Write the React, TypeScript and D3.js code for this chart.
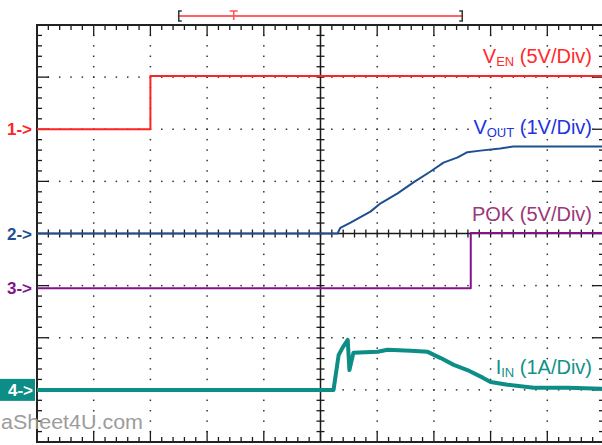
import React from 'react';
import * as d3 from 'd3';

const W = 602;
const H = 445;

// time axis in divisions, vertical axis in divisions
const xDomain = [-5, 5];
const yDomain = [-4, 4];

// Channel 1: VEN (5V/Div)
const ch1Time = [-5, -3.0, -3.0, 5];
const ch1Value = [0, 0, 5.1, 5.1];
// Channel 2: VOUT (1V/Div)
const ch2Time = [-5, 0.3, 0.35, 0.53, 0.88, 1.06, 1.36, 1.64, 1.94, 2.17, 2.42, 2.59, 2.82, 3.17, 3.4, 5];
const ch2Value = [0, 0, 0.11, 0.21, 0.42, 0.58, 0.77, 0.98, 1.19, 1.36, 1.46, 1.56, 1.59, 1.63, 1.67, 1.67];
// Channel 3: POK (5V/Div)
const ch3Time = [-5, 2.65, 2.65, 5];
const ch3Value = [0, 0, 5.3, 5.3];
// Channel 4: IIN (1A/Div)
const ch4Time = [-5, 0.23, 0.32, 0.39, 0.48, 0.51, 0.58, 1.01, 1.18, 1.59, 1.89, 2.12, 2.35, 2.59, 2.87, 3.0, 3.3, 3.76, 4.36, 5];
const ch4Value = [0, 0, 0.67, 0.81, 0.96, 0.38, 0.71, 0.73, 0.77, 0.75, 0.73, 0.61, 0.48, 0.38, 0.23, 0.15, 0.1, 0.04, 0.04, 0.02];

const channelIds = ['1', '2', '3', '4'];
const channelScales = [5, 1, 5, 1];
const channelOffsets = [2.0, 0, -1.05, -3.0];
const channelColors = ['#ff2424', '#1f4f8f', '#85128a', '#0c8d86'];
const labelColors = ['#ff2a2a', '#2233e0', '#9a3778', '#12918a'];
const labelMain = ['V', 'V', 'POK', 'I'];
const labelSub = ['EN', 'OUT', '', 'IN'];
const labelRest = [' (5V/Div)', ' (1V/Div)', ' (5V/Div)', ' (1A/Div)'];
const labelBaselines = [63, 134, 221, 374];

// top time bracket (divisions)
const bracketStart = -2.5;
const bracketEnd = 2.5;
const triggerPos = -1.53;

export default function App() {
  const x = d3.scaleLinear().domain(xDomain).range([37, 604]);
  const y = d3.scaleLinear().domain(yDomain).range([442, 25]);
  const minorX = d3.range(xDomain[0], xDomain[1] + 0.001, 0.2);
  const minorY = d3.range(yDomain[0], yDomain[1] + 0.001, 0.2);
  const majorX = d3.range(xDomain[0] + 1, xDomain[1], 1);
  const majorY = d3.range(yDomain[0] + 1, yDomain[1], 1);
  const isMajor = (v: number) => Math.abs(v - Math.round(v)) < 1e-6;

  const series = [
    [ch1Time, ch1Value],
    [ch2Time, ch2Value],
    [ch3Time, ch3Value],
    [ch4Time, ch4Value],
  ];

  const dots: JSX.Element[] = [];
  majorX.filter((t) => t !== 0).forEach((t) => {
    minorY.forEach((v, i) => {
      if (v <= yDomain[0] + 0.01 || v >= yDomain[1] - 0.01) return;
      dots.push(<rect key={`dv${t}_${i}`} x={x(t) - 0.75} y={y(v) - 0.75} width={1.5} height={1.5} fill="#333" />);
    });
  });
  majorY.filter((v) => v !== 0).forEach((v) => {
    minorX.forEach((t, i) => {
      if (t <= xDomain[0] + 0.01 || t >= xDomain[1] - 0.01) return;
      dots.push(<rect key={`dh${v}_${i}`} x={x(t) - 0.75} y={y(v) - 0.75} width={1.5} height={1.5} fill="#333" />);
    });
  });

  const ticks: JSX.Element[] = [];
  const x0 = x(0);
  const y0 = y(0);
  minorX.forEach((t, i) => {
    const xi = x(t);
    const L = isMajor(t) ? 11 : 5;
    ticks.push(<line key={`tt${i}`} x1={xi} x2={xi} y1={25} y2={25 + L} />);
    ticks.push(<line key={`tb${i}`} x1={xi} x2={xi} y1={442} y2={442 - L} />);
    ticks.push(<line key={`tc${i}`} x1={xi} x2={xi} y1={y0 - 4} y2={y0 + 4} />);
  });
  minorY.forEach((v, i) => {
    const yi = y(v);
    const L = isMajor(v) ? 12 : 5;
    ticks.push(<line key={`tl${i}`} x1={37} x2={37 + L} y1={yi} y2={yi} />);
    ticks.push(<line key={`tr${i}`} x1={604} x2={604 - L} y1={yi} y2={yi} />);
    ticks.push(<line key={`tcy${i}`} x1={x0 - 4} x2={x0 + 4} y1={yi} y2={yi} />);
  });

  const lines = series.map(([ts, vs], ci) => {
    const pts: [number, number][] = ts.map((t, k) => [t, vs[k] / channelScales[ci] + channelOffsets[ci]]);
    const gen = d3.line<[number, number]>().x((d) => x(d[0])).y((d) => y(d[1]));
    return (
      <path
        key={`s${ci}`}
        d={gen(pts) || ''}
        fill="none"
        stroke={channelColors[ci]}
        strokeWidth={ci === 3 ? 4 : 2}
        strokeLinejoin="round"
      />
    );
  });

  const font = "'Liberation Sans', Arial, sans-serif";

  return (
    <svg width={W} height={H} style={{ position: 'absolute', left: 0, top: 0, background: '#fff' }}>
      <rect x={0} y={0} width={W} height={H} fill="#fff" />
      {dots}
      <g stroke="#1a1a1a" strokeWidth={1.3}>{ticks}</g>
      <line x1={x0} x2={x0} y1={25} y2={442} stroke="#1a1a1a" strokeWidth={1.5} />
      <line x1={37} x2={604} y1={y0} y2={y0} stroke="#1a1a1a" strokeWidth={1.5} />
      <rect x={37} y={25} width={567} height={417} fill="none" stroke="#222" strokeWidth={2} />

      {/* time bracket */}
      <line x1={x(bracketStart)} x2={x(bracketEnd)} y1={16} y2={16} stroke="#ff3030" strokeWidth={1.5} />
      <path d={`M${x(bracketStart) + 3},11 H${x(bracketStart)} V21 H${x(bracketStart) + 3}`} fill="none" stroke="#333" strokeWidth={1.5} />
      <path d={`M${x(bracketEnd) - 3},11 H${x(bracketEnd)} V21 H${x(bracketEnd) - 3}`} fill="none" stroke="#333" strokeWidth={1.5} />
      <path d={`M${x(triggerPos) - 4},11 H${x(triggerPos) + 4} M${x(triggerPos)},11 V20`} fill="none" stroke="#ff5050" strokeWidth={1.5} />

      {lines}

      {/* channel labels */}
      {labelMain.map((m, i) => (
        <text key={`lab${i}`} x={592} y={labelBaselines[i]} textAnchor="end" fontFamily={font} fontSize={20} fill={labelColors[i]}
          stroke="#fff" strokeWidth={2.5} paintOrder="stroke" strokeLinejoin="round">
          <tspan>{m}</tspan>
          {labelSub[i] ? <tspan fontSize={13} dy={3}>{labelSub[i]}</tspan> : null}
          <tspan dy={labelSub[i] ? -3 : 0}>{labelRest[i]}</tspan>
        </text>
      ))}

      {/* channel markers */}
      {channelIds.map((id, i) => {
        const yy = y(channelOffsets[i]);
        if (i === 3) {
          return (
            <g key={`m${i}`}>
              <rect x={0} y={yy - 11} width={35} height={22} fill={channelColors[3]} />
              <text x={8} y={yy + 6} fontFamily={font} fontSize={17} fontWeight="bold" fill="#fff">{id + '->'}</text>
            </g>
          );
        }
        return (
          <text key={`m${i}`} x={7} y={yy + 6} fontFamily={font} fontSize={17} fontWeight="bold" fill={channelColors[i]}>
            {id + '->'}
          </text>
        );
      })}

      <text x={1} y={429} fontFamily={font} fontSize={20} fill="#9c9c9c" textLength={142} lengthAdjust="spacingAndGlyphs">aSheet4U.com</text>
    </svg>
  );
}
